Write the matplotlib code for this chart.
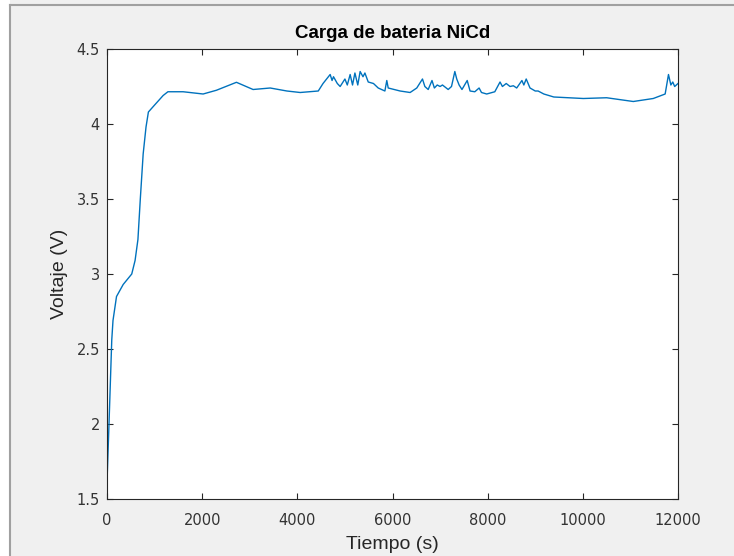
import numpy as np
import matplotlib.pyplot as plt
from matplotlib.lines import Line2D
from matplotlib.patches import Rectangle

# Datos (tiempo en s, voltaje en V)
tiempo = [0, 42, 100, 126, 200, 340, 520, 590, 650, 700, 760, 820, 870,
          1010, 1180, 1280, 1600, 2020, 2300, 2720, 3070, 3430, 3780, 4060,
          4440, 4540, 4690, 4730, 4760, 4840, 4900, 5000, 5050, 5110, 5160,
          5210, 5270, 5320, 5380, 5420, 5490, 5600, 5700, 5840, 5880, 5910,
          6160, 6370, 6510, 6630, 6680, 6750, 6830, 6880, 6940, 7000, 7050,
          7170, 7240, 7310, 7350, 7400, 7460, 7570, 7630, 7730, 7820, 7870,
          7980, 8150, 8260, 8310, 8390, 8470, 8540, 8610, 8720, 8760, 8810,
          8890, 9000, 9060, 9180, 9390, 10010, 10500, 11060, 11480, 11730,
          11800, 11850, 11890, 11930, 12000]
voltaje = [1.61, 2.0, 2.56, 2.69, 2.85, 2.93, 3.0, 3.09, 3.23, 3.5, 3.8, 3.98, 4.08,
           4.13, 4.19, 4.215, 4.215, 4.20, 4.225, 4.278, 4.23, 4.24, 4.22, 4.21,
           4.22, 4.27, 4.33, 4.29, 4.315, 4.27, 4.25, 4.30, 4.26, 4.33, 4.26,
           4.34, 4.26, 4.35, 4.315, 4.34, 4.28, 4.27, 4.24, 4.22, 4.29, 4.24,
           4.22, 4.21, 4.24, 4.30, 4.25, 4.23, 4.29, 4.24, 4.26, 4.25, 4.26,
           4.23, 4.25, 4.35, 4.30, 4.26, 4.23, 4.29, 4.22, 4.215, 4.24, 4.21,
           4.20, 4.215, 4.28, 4.25, 4.27, 4.25, 4.255, 4.24, 4.29, 4.26, 4.30,
           4.24, 4.22, 4.22, 4.20, 4.18, 4.17, 4.175, 4.15, 4.17, 4.20,
           4.33, 4.26, 4.28, 4.25, 4.27]

xticks = [0, 2000, 4000, 6000, 8000, 10000, 12000]
yticks = [1.5, 2, 2.5, 3, 3.5, 4, 4.5]

plt.rcParams['font.family'] = ['Liberation Sans', 'DejaVu Sans']

fig = plt.figure(figsize=(7.34, 5.56), dpi=100, facecolor='#F0F0F0')

# marco de la ventana
fig.add_artist(Rectangle((0, 0), 10/734, 1, transform=fig.transFigure,
                         facecolor='white', edgecolor='none'))
fig.add_artist(Line2D([10/734, 10/734], [0, 1 - 5/556], transform=fig.transFigure,
                      color='#A0A0A0', lw=1.5))
fig.add_artist(Line2D([10/734, 1], [1 - 5/556, 1 - 5/556], transform=fig.transFigure,
                      color='#A0A0A0', lw=1.5))

ax = fig.add_axes([107/734, 57/556, 571/734, 450/556])
ax.plot(tiempo, voltaje, color='#0072BD', lw=1.0)

ax.set_xlim(0, 12000)
ax.set_ylim(1.5, 4.5)
ax.set_xticks(xticks)
ax.set_xticklabels([str(v) for v in xticks])
ax.set_yticks(yticks)
ax.set_yticklabels(['1.5', '2', '2.5', '3', '3.5', '4', '4.5'])

for s in ax.spines.values():
    s.set_color('#262626')
    s.set_linewidth(0.8)
ax.tick_params(direction='in', length=4, width=0.8, colors='#262626',
               top=True, right=True, labeltop=False, labelright=False)
ax.tick_params(axis='x', pad=10)
ax.tick_params(axis='y', pad=5)
for lbl in ax.get_xticklabels() + ax.get_yticklabels():
    lbl.set_color('#333333')
    lbl.set_family('DejaVu Sans')
    lbl.set_fontsize(10.5)

ax.set_title('Carga de bateria NiCd', fontsize=13.5, fontweight='bold', color='black', pad=8)
ax.set_xlabel('Tiempo (s)', fontsize=14, color='#262626', labelpad=6)
ax.set_ylabel('Voltaje (V)', fontsize=14, color='#262626', labelpad=6)

fig.savefig('out.png', dpi=100, facecolor=fig.get_facecolor())
